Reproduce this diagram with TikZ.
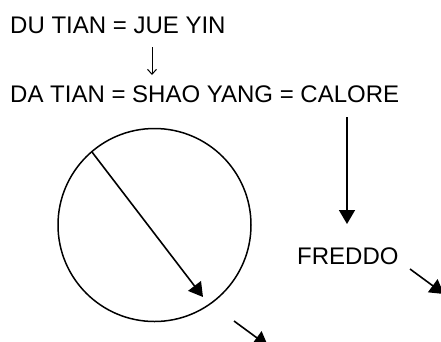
\documentclass[tikz,border=0pt]{standalone}
\usepackage{fontspec}
\setmainfont{Liberation Sans}
\usetikzlibrary{arrows.meta}
\begin{document}
\begin{tikzpicture}[x=1pt,y=-1pt,
  lbl/.style={inner sep=0pt,anchor=base west,font=\fontsize{24}{29}\selectfont},
  arr/.style={line width=1.6pt,-{Triangle[length=14pt,width=16pt]}},
  thin arr/.style={line width=1pt,-{Straight Barb[length=5pt,width=9pt]}}]
\useasboundingbox (0,0) rectangle (441,341);
\node[lbl] (du) at (10,33) {DU TIAN = JUE YIN};
\node[lbl] (da) at (10,102) {DA TIAN = SHAO YANG = CALORE};
\node[lbl] (fr) at (297,264) {FREDDO};
\node[circle,draw,line width=1.5pt,minimum size=193pt,inner sep=0pt] (circ) at (154.5,225) {};
\coordinate (a1) at (152,47);
\coordinate (a2) at (152,75);
\draw[thin arr] (a1) -- (a2);
\coordinate (c1) at (347,117);
\coordinate (c2) at (347,224);
\draw[arr] (c1) -- (c2);
\coordinate (d1) at (92,152);
\coordinate (d2) at (203,297);
\draw[arr] (d1) -- (d2);
\coordinate (e1) at (234,321);
\coordinate (e2) at (268,346);
\draw[arr] (e1) -- (e2);
\coordinate (f1) at (410,269);
\coordinate (f2) at (444,294);
\draw[arr] (f1) -- (f2);
\end{tikzpicture}
\end{document}
